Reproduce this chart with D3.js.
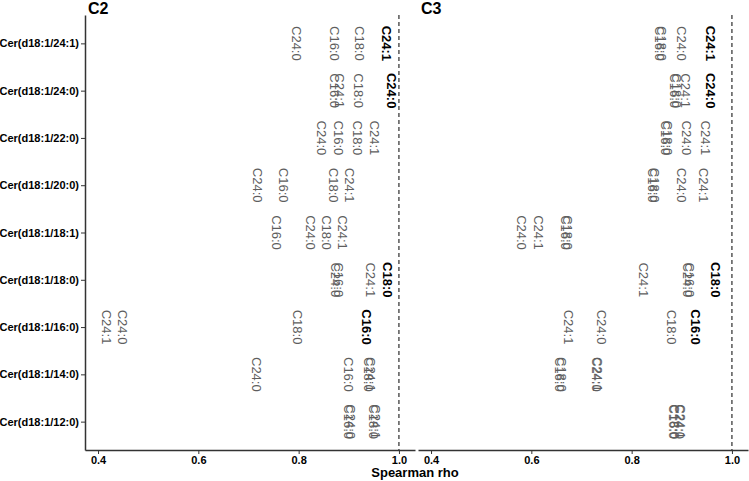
<!DOCTYPE html>
<html>
<head>
<meta charset="utf-8">
<script src="https://cdn.jsdelivr.net/npm/d3@7"></script>
<style>
  body { margin: 0; background: #fff; }
  text { font-family: "Liberation Sans", Arial, sans-serif; }
</style>
</head>
<body>
<div class="chart"></div>
<script>
// ceramide rows (top to bottom) and the label species
var rows = ["Cer(d18:1/24:1)", "Cer(d18:1/24:0)", "Cer(d18:1/22:0)", "Cer(d18:1/20:0)",
            "Cer(d18:1/18:1)", "Cer(d18:1/18:0)", "Cer(d18:1/16:0)", "Cer(d18:1/14:0)",
            "Cer(d18:1/12:0)"];
var species = ["C24:1", "C24:0", "C18:0", "C16:0"];
var panels = ["C2", "C3"];
var xTicks = [0.4, 0.6, 0.8, 1.0];

// spearman rho, one row per ceramide, columns follow `species`
var rhoC2 = [
  [0.975, 0.796, 0.922, 0.872],
  [0.882, 0.985, 0.920, 0.872],
  [0.952, 0.846, 0.918, 0.880],
  [0.902, 0.719, 0.870, 0.769],
  [0.888, 0.824, 0.856, 0.755],
  [0.944, 0.873, 0.978, 0.880],
  [0.416, 0.448, 0.798, 0.936],
  [0.944, 0.717, 0.940, 0.900],
  [0.953, 0.903, 0.950, 0.899]
];
var rhoC3 = [
  [0.957, 0.900, 0.860, 0.855],
  [0.908, 0.957, 0.890, 0.886],
  [0.947, 0.910, 0.871, 0.868],
  [0.944, 0.900, 0.846, 0.842],
  [0.615, 0.581, 0.672, 0.669],
  [0.824, 0.911, 0.968, 0.916],
  [0.675, 0.741, 0.880, 0.927],
  [0.733, 0.730, 0.660, 0.657],
  [0.898, 0.896, 0.886, 0.884]
];

var W = 749, H = 481;
var margin = {top: 15, bottom: 31, left: 85, right: 1};
var gap = 3;
var panelW = (W - margin.left - margin.right - gap) / 2;
var panelH = H - margin.top - margin.bottom;

var svg = d3.select(".chart").append("svg")
  .attr("width", W)
  .attr("height", H);

var y = d3.scalePoint()
  .domain(rows)
  .range([margin.top, margin.top + panelH])
  .padding(0.6);

// long format
function toLong(m) {
  var out = [];
  m.forEach(function(vals, i) {
    vals.forEach(function(v, j) {
      var acyl = rows[i].split("/")[1].replace(")", "");
      out.push({row: rows[i], label: species[j], rho: v, match: species[j] === "C" + acyl});
    });
  });
  return out;
}
var data = {C2: toLong(rhoC2), C3: toLong(rhoC3)};

panels.forEach(function(p, k) {
  var x0 = margin.left + k * (panelW + gap);
  var x = d3.scaleLinear().domain([0.374, 1.032]).range([x0, x0 + panelW]);

  var g = svg.append("g");

  // strip title
  g.append("text")
    .attr("x", x0 + 3)
    .attr("y", 14)
    .style("font-size", "16px")
    .style("font-weight", "bold")
    .text(p);

  // dashed reference at rho = 1
  g.append("line")
    .attr("x1", x(1)).attr("x2", x(1))
    .attr("y1", margin.top).attr("y2", margin.top + panelH)
    .attr("stroke", "#000")
    .attr("stroke-width", 1)
    .attr("stroke-dasharray", "4,3");

  // x axis
  var xa = g.append("g")
    .attr("transform", "translate(0," + (margin.top + panelH) + ")")
    .call(d3.axisBottom(x).tickValues(xTicks).tickFormat(d3.format(".1f")).tickSize(4).tickSizeOuter(0));
  xa.select(".domain").attr("stroke", "#333").attr("stroke-width", 1.5);
  xa.selectAll(".tick line").attr("stroke", "#333");
  xa.selectAll(".tick text")
    .attr("y", 6)
    .style("font-size", "11px")
    .style("font-weight", "bold")
    .attr("fill", "#000");

  // y axis only on the first panel
  if (k === 0) {
    var ya = g.append("g")
      .attr("transform", "translate(" + x0 + ",0)")
      .call(d3.axisLeft(y).tickSize(4).tickSizeOuter(0));
    ya.select(".domain").attr("stroke", "#333").attr("stroke-width", 1.5);
    ya.selectAll(".tick line").attr("stroke", "#333");
    ya.selectAll(".tick text")
      .attr("x", -6)
      .style("font-size", "11px")
      .style("font-weight", "bold")
      .attr("fill", "#000");
  }

  // rotated labels
  g.selectAll("text.lab")
    .data(data[p])
    .enter().append("text")
      .attr("class", "lab")
      .attr("transform", function(d) { return "translate(" + x(d.rho) + "," + y(d.row) + ") rotate(90)"; })
      .attr("text-anchor", "middle")
      .attr("dy", "0.35em")
      .style("font-size", "13px")
      .style("font-weight", function(d) { return d.match ? "bold" : "normal"; })
      .attr("fill", function(d) { return d.match ? "#000" : "#5e5e5e"; })
      .text(function(d) { return d.label; });
});

// axis title
svg.append("text")
  .attr("x", 415)
  .attr("y", 477)
  .attr("text-anchor", "middle")
  .style("font-size", "13px")
  .style("font-weight", "bold")
  .text("Spearman rho");
</script>
</body>
</html>
